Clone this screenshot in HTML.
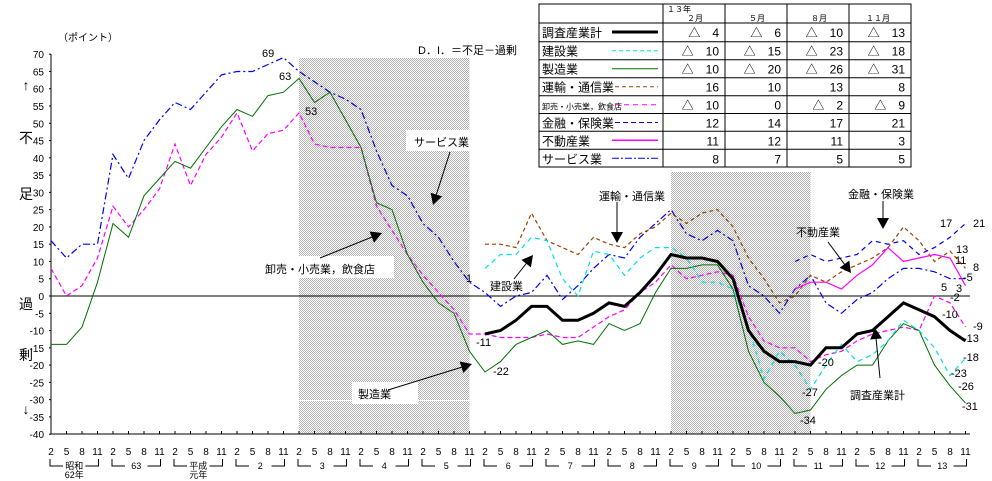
<!DOCTYPE html>
<html><head><meta charset="utf-8"><style>
body{margin:0;background:#fff}
svg{display:block;font-family:"Liberation Sans","Noto Sans CJK JP",sans-serif}
</style></head><body>
<svg id="chart" width="992" height="481" viewBox="0 0 992 481">
<defs>
<pattern id="hatch" width="2" height="2" patternUnits="userSpaceOnUse"><rect width="2" height="2" fill="#fff"/><rect width="1" height="1" fill="#b4b4b4"/><rect x="1" y="1" width="1" height="1" fill="#b4b4b4"/></pattern>
</defs>
<g id="shades"></g>
<g id="axes"></g>
<g id="series"></g>
<g id="notes"></g>
<g id="table"></g>
</svg>
<script>
const years = ["昭和62年","63","平成元年","2","3","4","5","6","7","8","9","10","11","12","13"];
const quarters = ["2","5","8","11"];
const yTicks = [70,65,60,55,50,45,40,35,30,25,20,15,10,5,0,-5,-10,-15,-20,-25,-30,-35,-40];
const recessions = [[16,27],[40,49]];
const seizo = [-14,-14,-9,4,21,17,29,34,39,37,43,49,54,52,58,59,63,56,59,51,43,27,25,12,4,-2,-5,-16,-22,-19,-14,-12,-10,-14,-13,-14,-8,-10,-8,1,8,8,9,9,2,-16,-25,-29,-34,-33,-27,-23,-20,-20,-13,-8,-10,-20,-26,-31];
const oroshi = [8,0,3,11,26,20,25,31,44,32,41,46,53,42,47,48,53,44,43,43,43,26,19,12,6,1,-4,-11,-11,-12,-12,-12,-11,-12,-12,-9,-6,-4,1,4,9,5,6,7,6,-6,-13,-15,-15,-19,-17,-16,-13,-11,-10,-9,-10,0,-2,-9];
const service = [16,11,15,15,41,34,45,51,56,54,59,64,65,65,67,69,65,62,59,57,54,42,32,29,21,17,10,4,1,-3,0,1,6,-1,3,8,12,11,17,21,25,18,16,19,16,3,0,-5,2,6,-2,-5,-1,1,5,8,8,7,5,5];
const total = [-11,-10,-7,-3,-3,-7,-7,-5,-2,-3,1,6,12,11,11,10,5,-10,-16,-19,-19,-20,-15,-15,-11,-10,-6,-2,-4,-6,-10,-13];
const kensetsu = [8,12,12,17,16,5,0,13,12,6,11,14,14,11,4,4,2,-9,-24,-16,-20,-27,-20,-14,-19,-17,-13,-7,-10,-15,-23,-18];
const unyu = [15,15,14,24,16,14,12,17,15,14,18,20,24,21,24,25,20,11,5,-2,0,6,4,7,9,11,14,20,16,10,13,8];
const kinyu = [10,12,10,11,12,16,15,16,12,14,17,21];
const fudosan = [2,4,4,2,6,9,14,10,11,12,11,3];
const totalStart = 28, kensetsuStart = 28, unyuStart = 28, kinyuStart = 48, fudosanStart = 48;

const NS="http://www.w3.org/2000/svg";
const X0=51, DX=15.5, Y0=296, K=380/110;
function xs(i){return X0+DX*i;}
function ys(v){return Y0-v*K;}
function mk(tag,attrs,parent,text){const e=document.createElementNS(NS,tag);for(const k in attrs)e.setAttribute(k,attrs[k]);if(text!==undefined)e.textContent=text;parent.appendChild(e);return e;}
const shades=document.getElementById('shades'),axes=document.getElementById('axes'),series=document.getElementById('series'),notes=document.getElementById('notes'),table=document.getElementById('table');

recessions.forEach((r,k)=>{
  const top = k===0?58:172;
  const el=mk('rect',{x:xs(r[0]),y:top,width:xs(r[1])-xs(r[0]),height:434-top,fill:'url(#hatch)'},shades);
  
  
});

let el=mk('line',{x1:X0,y1:54,x2:X0,y2:434,stroke:'#000'},axes);


el=mk('line',{x1:X0,y1:434,x2:970,y2:434,stroke:'#000'},axes);


el=mk('line',{x1:X0,y1:Y0,x2:970,y2:Y0,stroke:'#000'},axes);


yTicks.forEach(v=>{
  const t=mk('text',{x:44,y:ys(v)+4,'font-size':10,'text-anchor':'end'},axes,String(v));
  
  
  mk('line',{x1:X0-2,y1:ys(v),x2:X0,y2:ys(v),stroke:'#000'},axes);
});
for(let i=0;i<60;i++){
  mk('line',{x1:xs(i),y1:431,x2:xs(i),y2:434,stroke:'#000'},axes);
  const t=mk('text',{x:xs(i),y:455,'font-size':10,'text-anchor':'middle'},axes,quarters[i%4]);
  
  
}
years.forEach((yr,j)=>{
  const a=xs(j*4), b=xs(j*4+3);
  mk('path',{d:`M${a-1},459 V466 H${a+12} M${b+1},459 V466 H${b-12}`,stroke:'#000',fill:'none'},axes);
  let lab=yr, sub=null;
  if(yr==='昭和62年'){lab='昭和';sub='62年';}
  if(yr==='平成元年'){lab='平成';sub='元年';}
  const t=mk('text',{x:(a+b)/2,y:469,'font-size':9,'text-anchor':'middle'},axes,lab);
  
  
  if(sub){mk('text',{x:(a+b)/2,y:478,'font-size':9,'text-anchor':'middle'},axes,sub);}
});
[['↑',90],['不',143],['足',199],['過',309],['剰',360],['↓',414]].forEach(p=>{
  const t=mk('text',{x:26,y:p[1],'font-size':14,'text-anchor':'middle'},axes,p[0]);
  
  
});
el=mk('text',{x:58,y:41,'font-size':10},axes,'（ポイント）');


el=mk('text',{x:418,y:54,'font-size':11},axes,'D．I．＝不足－過剰');



[[406,130,70,21],[260,256,134,22],[352,382,66,22],[298,400,173,1]].forEach(b=>mk('rect',{x:b[0],y:b[1],width:b[2],height:b[3],fill:'#fff'},notes));

function drawSeries(vals,start,style,name){
  let d='';
  vals.forEach((v,k)=>{d+=(k?'L':'M')+xs(start+k).toFixed(1)+','+ys(v).toFixed(1);});
  const p=mk('path',Object.assign({d:d,fill:'none'},style),series);
  
  
}
drawSeries(service,0,{stroke:'#0000ee','stroke-width':1.2,'stroke-dasharray':'7,3,2,3'},'service-line');
drawSeries(oroshi,0,{stroke:'#ff00ff','stroke-width':1.2,'stroke-dasharray':'5,3'},'wholesale-retail-line');
drawSeries(seizo,0,{stroke:'#007000','stroke-width':1},'manufacturing-line');
drawSeries(unyu,unyuStart,{stroke:'#a04000','stroke-width':1.2,'stroke-dasharray':'4,3'},'transport-line');
drawSeries(kensetsu,kensetsuStart,{stroke:'#00e0e0','stroke-width':1.2,'stroke-dasharray':'5,4'},'construction-line');
drawSeries(kinyu,kinyuStart,{stroke:'#0000ee','stroke-width':1.2,'stroke-dasharray':'5,4'},'finance-line');
drawSeries(fudosan,fudosanStart,{stroke:'#ff00ff','stroke-width':1.2},'real-estate-line');
drawSeries(total,totalStart,{stroke:'#000','stroke-width':3},'total-line');

[['69',262,57],['63',279,80],['53',305,115],['1',466,282],['-11',476,346],['-22',493,375],
 ['-20',818,366],['-27',802,396],['-34',800,424],['21',973,227],['17',940,227],['13',956,253],['11',955,264],['8',973,271],['5',941,291],['3',956,292],['-5',963,281],['-2',950,301],['-10',942,318],['-9',973,330],['-13',963,342],['-18',963,361],['-23',951,377],['-26',958,390],['-31',962,410]
].forEach(l=>{const t=mk('text',{x:l[1],y:l[2],'font-size':11},notes,l[0]);});

function arrow(x1,y1,x2,y2,name){
  const a=Math.atan2(y2-y1,x2-x1),L=11,W=6;
  mk('line',{x1:x1,y1:y1,x2:x2-Math.cos(a)*L,y2:y2-Math.sin(a)*L,stroke:'#000'},notes);
  const bx=x2-Math.cos(a)*L,by=y2-Math.sin(a)*L,px=-Math.sin(a)*W,py=Math.cos(a)*W;
  const p=mk('polygon',{points:`${x2},${y2} ${bx+px},${by+py} ${bx-px},${by-py}`,fill:'#000'},notes);
  
  
}
arrow(450,152,433,205,'service-arrow');
arrow(320,258,382,233,'wholesale-arrow');
arrow(388,390,472,364,'manufacturing-arrow');
arrow(514,279,533,255,'construction-arrow');
arrow(617,202,617,243,'transport-arrow');
arrow(883,201,883,229,'finance-arrow');
arrow(828,242,851,273,'real-estate-arrow');
arrow(880,378,875,328,'total-arrow');
[['サービス業',414,146],['卸売・小売業，飲食店',265,273],['製造業',358,398],['建設業',490,290],['運輸・通信業',599,200],['金融・保険業',848,198],['不動産業',796,236],['調査産業計',850,399]].forEach(l=>{
  const t=mk('text',{x:l[1],y:l[2],'font-size':11},notes,l[0]);
  
  
});

const tRows=[['調査産業計','△　4','△　6','△　10','△　13'],['建設業','△　10','△　15','△　23','△　18'],['製造業','△　10','△　20','△　26','△　31'],['運輸・通信業','16','10','13','8'],['卸売・小売業，飲食店','△　10','0','△　2','△　9'],['金融・保険業','12','14','17','21'],['不動産業','11','12','11','3'],['サービス業','8','7','5','5']];
const tStyles=[{stroke:'#000','stroke-width':3},{stroke:'#00e0e0','stroke-dasharray':'4,3'},{stroke:'#007000'},{stroke:'#a04000','stroke-dasharray':'4,3'},{stroke:'#ff00ff','stroke-dasharray':'5,4'},{stroke:'#0000ee','stroke-dasharray':'5,3'},{stroke:'#ff00ff','stroke-width':1.5},{stroke:'#0000ee','stroke-dasharray':'7,2,2,2'}];
const cols=[539,663,725,787,849,911], rowsY=[4,23,41.7,59.7,77.7,95.7,113.5,131.3,149.3,167];
el=mk('rect',{x:539,y:4,width:372,height:163,fill:'#fff',stroke:'#000'},table);


cols.slice(1,5).forEach(c=>mk('line',{x1:c,y1:4,x2:c,y2:167,stroke:'#000'},table));
rowsY.slice(1,9).forEach(r=>mk('line',{x1:539,y1:r,x2:911,y2:r,stroke:'#000'},table));
mk('text',{x:667,y:12,'font-size':8},table,'１３年');
['２月','５月','８月','１１月'].forEach((h,k)=>mk('text',{x:cols[k+1]+(k==3?17:24),y:21,'font-size':8},table,h));
tRows.forEach((r,k)=>{
  const yb=rowsY[k+1]+14;
  const t=mk('text',{x:542,y:yb,'font-size':r[0].length>8?8:12},table,r[0]);
  
  
  mk('line',Object.assign({x1:r[0].length>5?615:612,y1:rowsY[k+1]+9,x2:658,y2:rowsY[k+1]+9,fill:'none'},tStyles[k]),table);
  for(let c=1;c<5;c++){mk('text',{x:cols[c+1]-6,y:yb,'font-size':12,'text-anchor':'end'},table,r[c]);}
});
</script>
</body></html>
